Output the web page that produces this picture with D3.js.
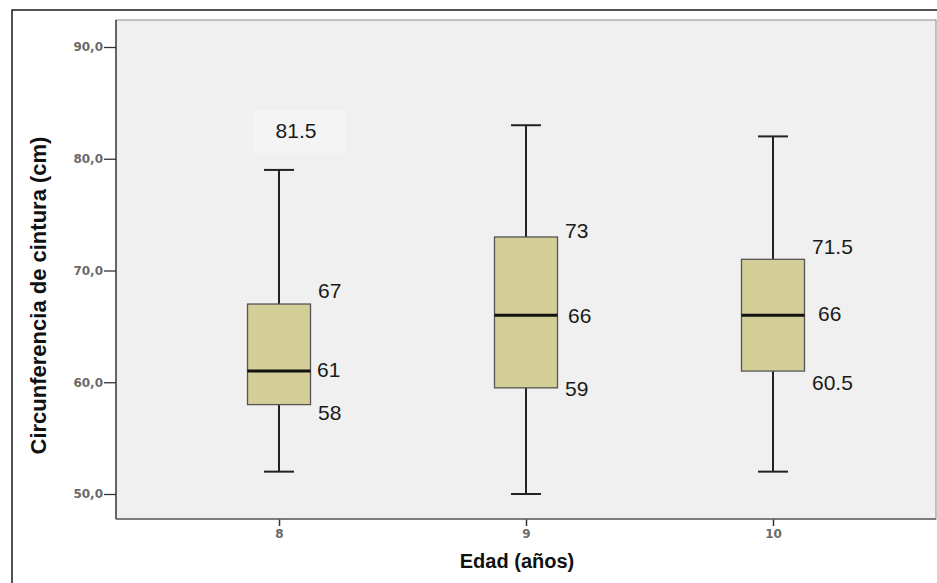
<!DOCTYPE html>
<html><head><meta charset="utf-8">
<script src="https://cdn.jsdelivr.net/npm/d3@7"></script>
<style>
html,body{margin:0;padding:0;background:#fff;}
svg{display:block;}
</style></head>
<body>
<svg id="chart" width="937" height="583"></svg>
<script>
// ---- data ----
const categories = ["8", "9", "10"];
const whiskerLow  = [52, 50, 52];
const q1          = [58, 59.5, 61];
const median      = [61, 66, 66];
const q3          = [67, 73, 71];
const whiskerHigh = [79, 83, 82];
// annotation texts (upper, median, lower) and the cm values they sit at
const labelUpper   = ["67", "73", "71.5"];
const labelMedian  = ["61", "66", "66"];
const labelLower   = ["58", "59", "60.5"];
const atUpper      = [68.2, 73.6, 72.1];
const atMedian     = [61.1, 65.95, 66.1];
const atLower      = [57.25, 59.4, 59.93];
const topNoteText  = "81.5";
const topNoteAt    = 82.5;
const yTicks = [50, 60, 70, 80, 90];
const yTitle = "Circunferencia de cintura (cm)";
const xTitle = "Edad (años)";

// ---- layout ----
const W = 937, H = 583;
const plot = {left: 116, right: 936, top: 20, bottom: 519};
const svg = d3.select("#chart");

const x = d3.scalePoint().domain(categories).range([plot.left, plot.right]).padding(0.66);
const y = d3.scaleLinear().domain([50, 90]).range([494, 47]);

// outer frame
svg.append("rect").attr("x", 12).attr("y", 10).attr("width", W).attr("height", H)
  .attr("fill", "#fff").attr("stroke", "#1a1a1a").attr("stroke-width", 1.5);

// plot background
svg.append("rect").attr("x", plot.left).attr("y", plot.top)
  .attr("width", plot.right - plot.left).attr("height", plot.bottom - plot.top)
  .attr("fill", "#f0f0f0").attr("stroke", "#8a8a8a").attr("stroke-width", 1);

// axes
const yAxis = d3.axisLeft(y).tickValues(yTicks).tickSize(12).tickPadding(1)
  .tickFormat(d => d3.format(".1f")(d).replace(".", ","));
const gy = svg.append("g").attr("transform", `translate(${plot.left},0)`).call(yAxis);
gy.select(".domain").remove();
gy.selectAll(".tick line").attr("stroke", "#333").attr("stroke-width", 1.3);
gy.selectAll(".tick text").attr("font-family", "DejaVu Sans").attr("font-weight", "bold")
  .attr("font-size", 12).attr("fill", "#6a6a6a");

const xAxis = d3.axisBottom(x).tickSize(7).tickPadding(3);
const gx = svg.append("g").attr("transform", `translate(0,${plot.bottom})`).call(xAxis);
gx.select(".domain").remove();
gx.selectAll(".tick line").attr("stroke", "#333").attr("stroke-width", 1.5);
gx.selectAll(".tick text").attr("font-family", "DejaVu Sans").attr("font-weight", "bold")
  .attr("font-size", 12).attr("fill", "#6a6a6a");

// axis lines (left darker, bottom)
svg.append("line").attr("x1", plot.left).attr("x2", plot.left)
  .attr("y1", plot.top).attr("y2", plot.bottom).attr("stroke", "#333").attr("stroke-width", 1.3);
svg.append("line").attr("x1", plot.left).attr("x2", plot.right)
  .attr("y1", plot.bottom).attr("y2", plot.bottom).attr("stroke", "#666").attr("stroke-width", 1.5);

// top note background + text
const cx0 = x(categories[0]);
svg.append("rect").attr("x", cx0 - 26).attr("y", y(topNoteAt) - 21)
  .attr("width", 92).attr("height", 43).attr("fill", "#f4f4f4");
svg.append("text").attr("x", cx0 + 17).attr("y", y(topNoteAt)).attr("dy", "0.35em")
  .attr("text-anchor", "middle").attr("font-family", "Liberation Sans, Arial")
  .attr("font-size", 21).attr("fill", "#1a1a1a").text(topNoteText);

// boxes
const boxW = 63, capW = 30;
const groups = svg.selectAll("g.box").data(categories).join("g").attr("class", "box");
groups.each(function(c, i) {
  const g = d3.select(this);
  const cx = x(c);
  // whiskers
  g.append("line").attr("x1", cx).attr("x2", cx).attr("y1", y(whiskerHigh[i])).attr("y2", y(q3[i]))
    .attr("stroke", "#222").attr("stroke-width", 2);
  g.append("line").attr("x1", cx).attr("x2", cx).attr("y1", y(q1[i])).attr("y2", y(whiskerLow[i]))
    .attr("stroke", "#222").attr("stroke-width", 2);
  g.append("line").attr("x1", cx - capW / 2).attr("x2", cx + capW / 2)
    .attr("y1", y(whiskerHigh[i])).attr("y2", y(whiskerHigh[i])).attr("stroke", "#222").attr("stroke-width", 2);
  g.append("line").attr("x1", cx - capW / 2).attr("x2", cx + capW / 2)
    .attr("y1", y(whiskerLow[i])).attr("y2", y(whiskerLow[i])).attr("stroke", "#222").attr("stroke-width", 2);
  // box
  g.append("rect").attr("x", cx - boxW / 2).attr("y", y(q3[i]))
    .attr("width", boxW).attr("height", y(q1[i]) - y(q3[i]))
    .attr("fill", "#d4cf98").attr("stroke", "#555").attr("stroke-width", 1.3);
  // median
  g.append("line").attr("x1", cx - boxW / 2).attr("x2", cx + boxW / 2)
    .attr("y1", y(median[i])).attr("y2", y(median[i])).attr("stroke", "#111").attr("stroke-width", 3);
  // labels
  const lab = (txt, v, dx) => g.append("text").attr("x", cx + dx).attr("y", y(v)).attr("dy", "0.35em")
    .attr("font-family", "Liberation Sans, Arial").attr("font-size", 21).attr("fill", "#1a1a1a").text(txt);
  lab(labelUpper[i], atUpper[i], 39);
  lab(labelMedian[i], atMedian[i], i === 0 ? 38 : 42 + (i - 1) * 3);
  lab(labelLower[i], atLower[i], 39);
});

// axis titles
svg.append("text").attr("transform", `translate(38,${(plot.top + plot.bottom) / 2 + 26}) rotate(-90)`)
  .attr("text-anchor", "middle").attr("dy", "0.35em")
  .attr("font-family", "Liberation Sans, Arial").attr("font-weight", "bold").attr("font-size", 22)
  .attr("fill", "#111").text(yTitle);
svg.append("text").attr("x", 517).attr("y", 568).attr("text-anchor", "middle")
  .attr("font-family", "Liberation Sans, Arial").attr("font-weight", "bold").attr("font-size", 20)
  .attr("fill", "#111").text(xTitle);
</script>
</body></html>
